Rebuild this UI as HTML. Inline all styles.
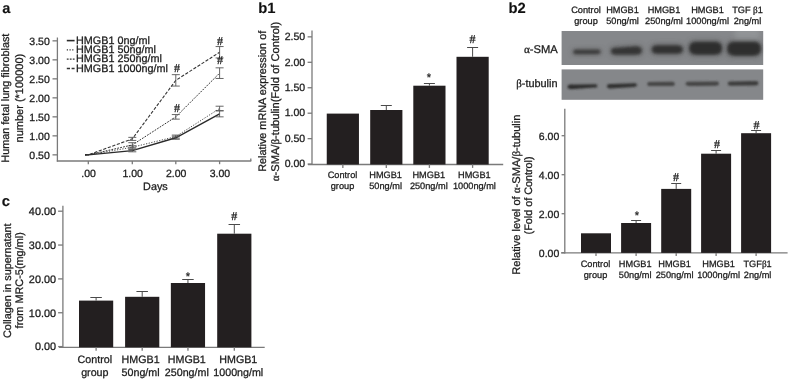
<!DOCTYPE html>
<html><head><meta charset="utf-8"><style>
html,body{margin:0;padding:0;background:#fff;}
body{width:789px;height:380px;overflow:hidden;}
svg{display:block;font-family:"Liberation Sans", sans-serif;filter:blur(0.4px);text-rendering:geometricPrecision;}
</style></head><body>
<svg width="789" height="380" viewBox="0 0 789 380">
<rect width="789" height="380" fill="#fff"/>
<text x="2.20" y="13.30" font-size="14.6" text-anchor="start" font-weight="bold" fill="#111" stroke="#111" stroke-width="0.1" >a</text>
<text x="258.20" y="12.80" font-size="14.8" text-anchor="start" font-weight="bold" fill="#111" stroke="#111" stroke-width="0.1" >b1</text>
<text x="508.50" y="12.90" font-size="14.8" text-anchor="start" font-weight="bold" fill="#111" stroke="#111" stroke-width="0.1" >b2</text>
<text x="1.70" y="205.60" font-size="14.8" text-anchor="start" font-weight="bold" fill="#111" stroke="#111" stroke-width="0.1" >c</text>
<line x1="57.40" y1="37.50" x2="57.40" y2="161.60" stroke="#7a7a7a" stroke-width="1.3" />
<line x1="56.80" y1="161.00" x2="251.30" y2="161.00" stroke="#7a7a7a" stroke-width="1.3" />
<line x1="250.80" y1="161.00" x2="250.80" y2="158.60" stroke="#7a7a7a" stroke-width="1.3" />
<line x1="52.50" y1="154.85" x2="57.40" y2="154.85" stroke="#7a7a7a" stroke-width="1.3" />
<text x="49.80" y="158.55" font-size="10.5" text-anchor="end" font-weight="normal" fill="#1c1c1c" stroke="#1c1c1c" stroke-width="0.28" >0.50</text>
<line x1="52.50" y1="135.85" x2="57.40" y2="135.85" stroke="#7a7a7a" stroke-width="1.3" />
<text x="49.80" y="139.55" font-size="10.5" text-anchor="end" font-weight="normal" fill="#1c1c1c" stroke="#1c1c1c" stroke-width="0.28" >1.00</text>
<line x1="52.50" y1="116.85" x2="57.40" y2="116.85" stroke="#7a7a7a" stroke-width="1.3" />
<text x="49.80" y="120.55" font-size="10.5" text-anchor="end" font-weight="normal" fill="#1c1c1c" stroke="#1c1c1c" stroke-width="0.28" >1.50</text>
<line x1="52.50" y1="97.85" x2="57.40" y2="97.85" stroke="#7a7a7a" stroke-width="1.3" />
<text x="49.80" y="101.55" font-size="10.5" text-anchor="end" font-weight="normal" fill="#1c1c1c" stroke="#1c1c1c" stroke-width="0.28" >2.00</text>
<line x1="52.50" y1="78.85" x2="57.40" y2="78.85" stroke="#7a7a7a" stroke-width="1.3" />
<text x="49.80" y="82.55" font-size="10.5" text-anchor="end" font-weight="normal" fill="#1c1c1c" stroke="#1c1c1c" stroke-width="0.28" >2.50</text>
<line x1="52.50" y1="59.85" x2="57.40" y2="59.85" stroke="#7a7a7a" stroke-width="1.3" />
<text x="49.80" y="63.55" font-size="10.5" text-anchor="end" font-weight="normal" fill="#1c1c1c" stroke="#1c1c1c" stroke-width="0.28" >3.00</text>
<line x1="52.50" y1="40.85" x2="57.40" y2="40.85" stroke="#7a7a7a" stroke-width="1.3" />
<text x="49.80" y="44.55" font-size="10.5" text-anchor="end" font-weight="normal" fill="#1c1c1c" stroke="#1c1c1c" stroke-width="0.28" >3.50</text>
<line x1="88.30" y1="161.00" x2="88.30" y2="164.20" stroke="#7a7a7a" stroke-width="1.3" />
<text x="88.60" y="176.80" font-size="10.5" text-anchor="middle" font-weight="normal" fill="#1c1c1c" stroke="#1c1c1c" stroke-width="0.28" >.00</text>
<line x1="132.30" y1="161.00" x2="132.30" y2="164.20" stroke="#7a7a7a" stroke-width="1.3" />
<text x="132.60" y="176.80" font-size="10.5" text-anchor="middle" font-weight="normal" fill="#1c1c1c" stroke="#1c1c1c" stroke-width="0.28" >1.00</text>
<line x1="175.80" y1="161.00" x2="175.80" y2="164.20" stroke="#7a7a7a" stroke-width="1.3" />
<text x="176.10" y="176.80" font-size="10.5" text-anchor="middle" font-weight="normal" fill="#1c1c1c" stroke="#1c1c1c" stroke-width="0.28" >2.00</text>
<line x1="219.60" y1="161.00" x2="219.60" y2="164.20" stroke="#7a7a7a" stroke-width="1.3" />
<text x="219.90" y="176.80" font-size="10.5" text-anchor="middle" font-weight="normal" fill="#1c1c1c" stroke="#1c1c1c" stroke-width="0.28" >3.00</text>
<text x="155.40" y="189.70" font-size="10.8" text-anchor="middle" font-weight="normal" fill="#1c1c1c" stroke="#1c1c1c" stroke-width="0.28" >Days</text>
<text transform="translate(9.10,98.15) rotate(-90)" font-size="10.85" text-anchor="middle" font-weight="normal" fill="#1c1c1c" stroke="#1c1c1c" stroke-width="0.28" >Human fetal lung fibroblast</text>
<text transform="translate(22.60,98.10) rotate(-90)" font-size="11.0" text-anchor="middle" font-weight="normal" fill="#1c1c1c" stroke="#1c1c1c" stroke-width="0.28" >number (*100000)</text>
<line x1="66.80" y1="40.60" x2="74.60" y2="40.60" stroke="#2a2a2a" stroke-width="1.5999999999999999" />
<text x="76.00" y="43.60" font-size="10.8" text-anchor="start" font-weight="normal" fill="#1c1c1c" stroke="#1c1c1c" stroke-width="0.28" >HMGB1 0ng/ml</text>
<line x1="66.80" y1="49.90" x2="74.60" y2="49.90" stroke="#333" stroke-width="1.1" stroke-dasharray="1.2 1.5"/>
<text x="76.00" y="52.90" font-size="10.8" text-anchor="start" font-weight="normal" fill="#1c1c1c" stroke="#1c1c1c" stroke-width="0.28" >HMGB1 50ng/ml</text>
<line x1="66.80" y1="59.20" x2="74.60" y2="59.20" stroke="#333" stroke-width="1.2" stroke-dasharray="1.8 1.2"/>
<text x="76.00" y="62.20" font-size="10.8" text-anchor="start" font-weight="normal" fill="#1c1c1c" stroke="#1c1c1c" stroke-width="0.28" >HMGB1 250ng/ml</text>
<line x1="66.80" y1="68.50" x2="74.60" y2="68.50" stroke="#333" stroke-width="1.3" stroke-dasharray="3.2 1.6"/>
<text x="76.00" y="71.50" font-size="10.8" text-anchor="start" font-weight="normal" fill="#1c1c1c" stroke="#1c1c1c" stroke-width="0.28" >HMGB1 1000ng/ml</text>
<polyline points="85.00,154.85 88.30,154.85 132.30,147.25 175.80,136.61 219.60,108.49" fill="none" stroke="#333" stroke-width="0.9" stroke-dasharray="1.2 1.5"/>
<line x1="132.30" y1="145.73" x2="132.30" y2="148.77" stroke="#555" stroke-width="0.9" />
<line x1="128.30" y1="145.73" x2="136.30" y2="145.73" stroke="#555" stroke-width="0.9" />
<line x1="128.30" y1="148.77" x2="136.30" y2="148.77" stroke="#555" stroke-width="0.9" />
<line x1="175.80" y1="135.09" x2="175.80" y2="138.13" stroke="#555" stroke-width="0.9" />
<line x1="171.80" y1="135.09" x2="179.80" y2="135.09" stroke="#555" stroke-width="0.9" />
<line x1="171.80" y1="138.13" x2="179.80" y2="138.13" stroke="#555" stroke-width="0.9" />
<line x1="219.60" y1="106.21" x2="219.60" y2="110.77" stroke="#555" stroke-width="0.9" />
<line x1="215.60" y1="106.21" x2="223.60" y2="106.21" stroke="#555" stroke-width="0.9" />
<line x1="215.60" y1="110.77" x2="223.60" y2="110.77" stroke="#555" stroke-width="0.9" />
<polyline points="85.00,154.85 88.30,154.85 132.30,144.97 175.80,116.85 219.60,73.15" fill="none" stroke="#333" stroke-width="1.0" stroke-dasharray="1.8 1.2"/>
<line x1="132.30" y1="142.69" x2="132.30" y2="147.25" stroke="#555" stroke-width="0.9" />
<line x1="128.30" y1="142.69" x2="136.30" y2="142.69" stroke="#555" stroke-width="0.9" />
<line x1="128.30" y1="147.25" x2="136.30" y2="147.25" stroke="#555" stroke-width="0.9" />
<line x1="175.80" y1="114.57" x2="175.80" y2="119.13" stroke="#555" stroke-width="0.9" />
<line x1="171.80" y1="114.57" x2="179.80" y2="114.57" stroke="#555" stroke-width="0.9" />
<line x1="171.80" y1="119.13" x2="179.80" y2="119.13" stroke="#555" stroke-width="0.9" />
<line x1="219.60" y1="67.83" x2="219.60" y2="78.47" stroke="#555" stroke-width="0.9" />
<line x1="215.60" y1="67.83" x2="223.60" y2="67.83" stroke="#555" stroke-width="0.9" />
<line x1="215.60" y1="78.47" x2="223.60" y2="78.47" stroke="#555" stroke-width="0.9" />
<polyline points="85.00,154.85 88.30,154.85 132.30,138.89 175.80,80.37 219.60,52.25" fill="none" stroke="#333" stroke-width="1.1" stroke-dasharray="3.2 1.6"/>
<line x1="132.30" y1="137.37" x2="132.30" y2="140.41" stroke="#555" stroke-width="0.9" />
<line x1="128.30" y1="137.37" x2="136.30" y2="137.37" stroke="#555" stroke-width="0.9" />
<line x1="128.30" y1="140.41" x2="136.30" y2="140.41" stroke="#555" stroke-width="0.9" />
<line x1="175.80" y1="74.67" x2="175.80" y2="86.07" stroke="#555" stroke-width="0.9" />
<line x1="171.80" y1="74.67" x2="179.80" y2="74.67" stroke="#555" stroke-width="0.9" />
<line x1="171.80" y1="86.07" x2="179.80" y2="86.07" stroke="#555" stroke-width="0.9" />
<line x1="219.60" y1="46.55" x2="219.60" y2="57.95" stroke="#555" stroke-width="0.9" />
<line x1="215.60" y1="46.55" x2="223.60" y2="46.55" stroke="#555" stroke-width="0.9" />
<line x1="215.60" y1="57.95" x2="223.60" y2="57.95" stroke="#555" stroke-width="0.9" />
<polyline points="85.00,154.85 88.30,154.85 132.30,150.67 175.80,137.75 219.60,113.81" fill="none" stroke="#2a2a2a" stroke-width="1.4" />
<line x1="132.30" y1="149.53" x2="132.30" y2="151.81" stroke="#555" stroke-width="0.9" />
<line x1="128.30" y1="149.53" x2="136.30" y2="149.53" stroke="#555" stroke-width="0.9" />
<line x1="128.30" y1="151.81" x2="136.30" y2="151.81" stroke="#555" stroke-width="0.9" />
<line x1="175.80" y1="136.23" x2="175.80" y2="139.27" stroke="#555" stroke-width="0.9" />
<line x1="171.80" y1="136.23" x2="179.80" y2="136.23" stroke="#555" stroke-width="0.9" />
<line x1="171.80" y1="139.27" x2="179.80" y2="139.27" stroke="#555" stroke-width="0.9" />
<line x1="219.60" y1="110.77" x2="219.60" y2="116.85" stroke="#555" stroke-width="0.9" />
<line x1="215.60" y1="110.77" x2="223.60" y2="110.77" stroke="#555" stroke-width="0.9" />
<line x1="215.60" y1="116.85" x2="223.60" y2="116.85" stroke="#555" stroke-width="0.9" />
<text x="176.90" y="72.30" font-size="12" text-anchor="middle" font-weight="normal" fill="#1a1a1a" stroke="#1a1a1a" stroke-width="0.28" font-family='"Liberation Serif", serif'>#</text>
<text x="176.90" y="111.60" font-size="12" text-anchor="middle" font-weight="normal" fill="#1a1a1a" stroke="#1a1a1a" stroke-width="0.28" font-family='"Liberation Serif", serif'>#</text>
<text x="219.90" y="45.20" font-size="12" text-anchor="middle" font-weight="normal" fill="#1a1a1a" stroke="#1a1a1a" stroke-width="0.28" font-family='"Liberation Serif", serif'>#</text>
<text x="219.90" y="63.80" font-size="12" text-anchor="middle" font-weight="normal" fill="#1a1a1a" stroke="#1a1a1a" stroke-width="0.28" font-family='"Liberation Serif", serif'>#</text>
<line x1="312.00" y1="30.50" x2="312.00" y2="165.10" stroke="#7a7a7a" stroke-width="1.3" />
<line x1="308.00" y1="164.50" x2="503.20" y2="164.50" stroke="#7a7a7a" stroke-width="1.3" />
<line x1="307.60" y1="164.10" x2="312.00" y2="164.10" stroke="#7a7a7a" stroke-width="1.3" />
<text x="305.20" y="167.30" font-size="10.5" text-anchor="end" font-weight="normal" fill="#1c1c1c" stroke="#1c1c1c" stroke-width="0.28" >0.00</text>
<line x1="307.60" y1="138.65" x2="312.00" y2="138.65" stroke="#7a7a7a" stroke-width="1.3" />
<text x="305.20" y="141.85" font-size="10.5" text-anchor="end" font-weight="normal" fill="#1c1c1c" stroke="#1c1c1c" stroke-width="0.28" >0.50</text>
<line x1="307.60" y1="113.20" x2="312.00" y2="113.20" stroke="#7a7a7a" stroke-width="1.3" />
<text x="305.20" y="116.40" font-size="10.5" text-anchor="end" font-weight="normal" fill="#1c1c1c" stroke="#1c1c1c" stroke-width="0.28" >1.00</text>
<line x1="307.60" y1="87.75" x2="312.00" y2="87.75" stroke="#7a7a7a" stroke-width="1.3" />
<text x="305.20" y="90.95" font-size="10.5" text-anchor="end" font-weight="normal" fill="#1c1c1c" stroke="#1c1c1c" stroke-width="0.28" >1.50</text>
<line x1="307.60" y1="62.30" x2="312.00" y2="62.30" stroke="#7a7a7a" stroke-width="1.3" />
<text x="305.20" y="65.50" font-size="10.5" text-anchor="end" font-weight="normal" fill="#1c1c1c" stroke="#1c1c1c" stroke-width="0.28" >2.00</text>
<line x1="307.60" y1="36.85" x2="312.00" y2="36.85" stroke="#7a7a7a" stroke-width="1.3" />
<text x="305.20" y="40.05" font-size="10.5" text-anchor="end" font-weight="normal" fill="#1c1c1c" stroke="#1c1c1c" stroke-width="0.28" >2.50</text>
<rect x="326.75" y="113.60" width="32.20" height="50.90" fill="#231f20" />
<line x1="342.85" y1="164.50" x2="342.85" y2="167.90" stroke="#7a7a7a" stroke-width="1.3" />
<rect x="370.20" y="110.00" width="32.20" height="54.50" fill="#231f20" />
<line x1="386.30" y1="164.50" x2="386.30" y2="167.90" stroke="#7a7a7a" stroke-width="1.3" />
<line x1="386.30" y1="110.00" x2="386.30" y2="105.50" stroke="#4a4a4a" stroke-width="1.0" />
<line x1="380.80" y1="105.50" x2="391.80" y2="105.50" stroke="#4a4a4a" stroke-width="1.0" />
<rect x="413.30" y="85.70" width="32.20" height="78.80" fill="#231f20" />
<line x1="429.40" y1="164.50" x2="429.40" y2="167.90" stroke="#7a7a7a" stroke-width="1.3" />
<line x1="429.40" y1="85.70" x2="429.40" y2="83.50" stroke="#4a4a4a" stroke-width="1.0" />
<line x1="423.90" y1="83.50" x2="434.90" y2="83.50" stroke="#4a4a4a" stroke-width="1.0" />
<rect x="456.50" y="56.80" width="32.20" height="107.70" fill="#231f20" />
<line x1="472.60" y1="164.50" x2="472.60" y2="167.90" stroke="#7a7a7a" stroke-width="1.3" />
<line x1="472.60" y1="56.80" x2="472.60" y2="47.50" stroke="#4a4a4a" stroke-width="1.0" />
<line x1="467.10" y1="47.50" x2="478.10" y2="47.50" stroke="#4a4a4a" stroke-width="1.0" />
<text x="429.00" y="81.40" font-size="11" text-anchor="middle" font-weight="normal" fill="#222" stroke="#222" stroke-width="0.28" >*</text>
<text x="472.40" y="42.60" font-size="12" text-anchor="middle" font-weight="normal" fill="#1a1a1a" stroke="#1a1a1a" stroke-width="0.28" font-family='"Liberation Serif", serif'>#</text>
<text x="342.50" y="177.90" font-size="9.2" text-anchor="middle" font-weight="normal" fill="#1c1c1c" stroke="#1c1c1c" stroke-width="0.28" >Control</text>
<text x="342.50" y="188.80" font-size="9.2" text-anchor="middle" font-weight="normal" fill="#1c1c1c" stroke="#1c1c1c" stroke-width="0.28" >group</text>
<text x="385.60" y="177.90" font-size="9.2" text-anchor="middle" font-weight="normal" fill="#1c1c1c" stroke="#1c1c1c" stroke-width="0.28" >HMGB1</text>
<text x="385.60" y="188.80" font-size="9.2" text-anchor="middle" font-weight="normal" fill="#1c1c1c" stroke="#1c1c1c" stroke-width="0.28" >50ng/ml</text>
<text x="428.80" y="177.90" font-size="9.2" text-anchor="middle" font-weight="normal" fill="#1c1c1c" stroke="#1c1c1c" stroke-width="0.28" >HMGB1</text>
<text x="428.80" y="188.80" font-size="9.2" text-anchor="middle" font-weight="normal" fill="#1c1c1c" stroke="#1c1c1c" stroke-width="0.28" >250ng/ml</text>
<text x="474.40" y="177.90" font-size="9.2" text-anchor="middle" font-weight="normal" fill="#1c1c1c" stroke="#1c1c1c" stroke-width="0.28" >HMGB1</text>
<text x="474.40" y="188.80" font-size="9.2" text-anchor="middle" font-weight="normal" fill="#1c1c1c" stroke="#1c1c1c" stroke-width="0.28" >1000ng/ml</text>
<text transform="translate(266.30,101.30) rotate(-90)" font-size="10.85" text-anchor="middle" font-weight="normal" fill="#1c1c1c" stroke="#1c1c1c" stroke-width="0.28" >Relative mRNA expression of</text>
<text transform="translate(279.20,101.60) rotate(-90)" font-size="11.15" text-anchor="middle" font-weight="normal" fill="#1c1c1c" stroke="#1c1c1c" stroke-width="0.28" ><tspan font-family='"Liberation Serif", serif'>α</tspan>-SMA/<tspan font-family='"Liberation Serif", serif'>β</tspan>-tubulin(Fold of Control)</text>
<text x="586.00" y="13.40" font-size="9.2" text-anchor="middle" font-weight="normal" fill="#1c1c1c" stroke="#1c1c1c" stroke-width="0.28" >Control</text>
<text x="586.00" y="24.40" font-size="9.2" text-anchor="middle" font-weight="normal" fill="#1c1c1c" stroke="#1c1c1c" stroke-width="0.28" >group</text>
<text x="622.50" y="13.40" font-size="9.2" text-anchor="middle" font-weight="normal" fill="#1c1c1c" stroke="#1c1c1c" stroke-width="0.28" >HMGB1</text>
<text x="622.50" y="24.40" font-size="9.2" text-anchor="middle" font-weight="normal" fill="#1c1c1c" stroke="#1c1c1c" stroke-width="0.28" >50ng/ml</text>
<text x="664.00" y="13.40" font-size="9.2" text-anchor="middle" font-weight="normal" fill="#1c1c1c" stroke="#1c1c1c" stroke-width="0.28" >HMGB1</text>
<text x="664.00" y="24.40" font-size="9.2" text-anchor="middle" font-weight="normal" fill="#1c1c1c" stroke="#1c1c1c" stroke-width="0.28" >250ng/ml</text>
<text x="707.50" y="13.40" font-size="9.2" text-anchor="middle" font-weight="normal" fill="#1c1c1c" stroke="#1c1c1c" stroke-width="0.28" >HMGB1</text>
<text x="707.50" y="24.40" font-size="9.2" text-anchor="middle" font-weight="normal" fill="#1c1c1c" stroke="#1c1c1c" stroke-width="0.28" >1000ng/ml</text>
<text x="747.50" y="13.40" font-size="9.2" text-anchor="middle" font-weight="normal" fill="#1c1c1c" stroke="#1c1c1c" stroke-width="0.28" >TGF <tspan font-family='"Liberation Serif", serif'>β</tspan>1</text>
<text x="747.50" y="24.40" font-size="9.2" text-anchor="middle" font-weight="normal" fill="#1c1c1c" stroke="#1c1c1c" stroke-width="0.28" >2ng/ml</text>
<text x="557.80" y="53.20" font-size="11.2" text-anchor="end" font-weight="normal" fill="#1c1c1c" stroke="#1c1c1c" stroke-width="0.28" ><tspan font-family='"Liberation Serif", serif'>α</tspan>-SMA</text>
<text x="557.50" y="86.60" font-size="10.9" text-anchor="end" font-weight="normal" fill="#1c1c1c" stroke="#1c1c1c" stroke-width="0.28" ><tspan font-family='"Liberation Serif", serif'>β</tspan>-tubulin</text>
<defs><filter id="bl" x="-20%" y="-100%" width="140%" height="300%"><feGaussianBlur stdDeviation="1.75"/></filter><filter id="bl2" x="-20%" y="-100%" width="140%" height="300%"><feGaussianBlur stdDeviation="1.15"/></filter><filter id="bl3" x="-50%" y="-50%" width="200%" height="200%"><feGaussianBlur stdDeviation="2.5"/></filter><clipPath id="cb1"><rect x="561.6" y="31" width="201.6" height="34"/></clipPath></defs>
<rect x="561.60" y="31.00" width="201.60" height="34.00" fill="#85878a" />
<rect x="561.60" y="69.40" width="201.60" height="30.40" fill="#85878a" />
<g clip-path="url(#cb1)"><rect x="735" y="28" width="24" height="13" fill="#929497" filter="url(#bl3)"/></g>
<g opacity="0.5" clip-path="url(#cb1)">
<path d="M572.00,51.90 C572.00,48.40 575.85,48.40 577.77,48.40 L596.23,48.30 C598.15,48.30 602.00,48.30 602.00,51.80 C602.00,55.30 598.15,55.30 596.23,55.30 L577.77,55.40 C575.85,55.40 572.00,55.40 572.00,51.90 Z" fill="#555" filter="url(#bl3)"/>
<path d="M609.50,51.00 C609.50,46.00 615.00,46.00 617.75,46.00 L635.25,45.00 C638.00,45.00 643.50,45.00 643.50,50.50 C643.50,56.00 638.00,56.00 635.25,56.00 L617.75,56.00 C615.00,56.00 609.50,56.00 609.50,51.00 Z" fill="#505050" filter="url(#bl3)"/>
<path d="M650.00,49.60 C650.00,43.85 655.50,43.85 658.25,43.85 L676.25,43.85 C679.00,43.85 684.50,43.85 684.50,49.60 C684.50,55.35 679.00,55.35 676.25,55.35 L658.25,55.35 C655.50,55.35 650.00,55.35 650.00,49.60 Z" fill="#4a4a4a" filter="url(#bl3)"/>
<path d="M687.50,48.30 C687.50,40.30 693.00,40.30 695.75,40.30 L715.25,40.30 C718.00,40.30 723.50,40.30 723.50,48.30 C723.50,56.30 718.00,56.30 715.25,56.30 L695.75,56.30 C693.00,56.30 687.50,56.30 687.50,48.30 Z" fill="#454545" filter="url(#bl3)"/>
<path d="M725.50,48.70 C725.50,40.20 731.00,40.20 733.75,40.20 L753.75,40.20 C756.50,40.20 762.00,40.20 762.00,48.70 C762.00,57.20 756.50,57.20 753.75,57.20 L733.75,57.20 C731.00,57.20 725.50,57.20 725.50,48.70 Z" fill="#454545" filter="url(#bl3)"/>
</g>
<path d="M573.40,51.90 C573.40,49.70 575.82,49.70 577.03,49.70 L596.93,49.70 C598.09,49.70 600.40,49.70 600.40,51.80 C600.40,53.90 598.09,53.90 596.93,53.90 L577.03,54.10 C575.82,54.10 573.40,54.10 573.40,51.90 Z" fill="#3a3a3a" filter="url(#bl)"/>
<path d="M611.20,51.30 C611.20,48.10 614.72,48.10 616.48,48.10 L635.17,46.60 C637.31,46.60 641.60,46.60 641.60,50.50 C641.60,54.40 637.31,54.40 635.17,54.40 L616.48,54.50 C614.72,54.50 611.20,54.50 611.20,51.30 Z" fill="#353535" filter="url(#bl)"/>
<path d="M652.00,49.60 C652.00,45.60 656.40,45.60 658.60,45.60 L676.00,45.60 C678.20,45.60 682.60,45.60 682.60,49.60 C682.60,53.60 678.20,53.60 676.00,53.60 L658.60,53.60 C656.40,53.60 652.00,53.60 652.00,49.60 Z" fill="#313131" filter="url(#bl)"/>
<path d="M689.40,48.30 C689.40,42.10 694.90,42.10 697.65,42.10 L713.55,42.10 C716.30,42.10 721.80,42.10 721.80,48.30 C721.80,54.50 716.30,54.50 713.55,54.50 L697.65,54.50 C694.90,54.50 689.40,54.50 689.40,48.30 Z" fill="#2e2e2e" filter="url(#bl)"/>
<path d="M727.40,48.70 C727.40,42.00 732.90,42.00 735.65,42.00 L752.55,42.00 C755.30,42.00 760.80,42.00 760.80,48.70 C760.80,55.40 755.30,55.40 752.55,55.40 L735.65,55.40 C732.90,55.40 727.40,55.40 727.40,48.70 Z" fill="#2e2e2e" filter="url(#bl)"/>
<path d="M567.60,86.80 C567.60,84.40 570.24,84.40 571.56,84.40 L594.60,84.20 C595.53,84.20 597.40,84.20 597.40,85.90 C597.40,87.60 595.53,87.60 594.60,87.60 L571.56,89.20 C570.24,89.20 567.60,89.20 567.60,86.80 Z" fill="#2e2e2e" filter="url(#bl2)"/>
<path d="M607.00,86.30 C607.00,84.00 609.53,84.00 610.79,84.00 L634.03,83.30 C635.02,83.30 637.00,83.30 637.00,85.10 C637.00,86.90 635.02,86.90 634.03,86.90 L610.79,88.60 C609.53,88.60 607.00,88.60 607.00,86.30 Z" fill="#303030" filter="url(#bl2)"/>
<path d="M647.20,84.00 C647.20,81.90 649.51,81.90 650.67,81.90 L671.33,81.80 C672.49,81.80 674.80,81.80 674.80,83.90 C674.80,86.00 672.49,86.00 671.33,86.00 L650.67,86.10 C649.51,86.10 647.20,86.10 647.20,84.00 Z" fill="#444444" filter="url(#bl2)"/>
<path d="M685.60,83.80 C685.60,81.70 687.91,81.70 689.07,81.70 L715.53,81.50 C716.69,81.50 719.00,81.50 719.00,83.60 C719.00,85.70 716.69,85.70 715.53,85.70 L689.07,85.90 C687.91,85.90 685.60,85.90 685.60,83.80 Z" fill="#444444" filter="url(#bl2)"/>
<path d="M727.80,83.60 C727.80,81.40 730.22,81.40 731.43,81.40 L754.77,81.10 C755.98,81.10 758.40,81.10 758.40,83.30 C758.40,85.50 755.98,85.50 754.77,85.50 L731.43,85.80 C730.22,85.80 727.80,85.80 727.80,83.60 Z" fill="#3c3c3c" filter="url(#bl2)"/>
<line x1="564.80" y1="108.80" x2="564.80" y2="253.50" stroke="#7a7a7a" stroke-width="1.3" />
<line x1="561.00" y1="252.90" x2="787.60" y2="252.90" stroke="#7a7a7a" stroke-width="1.3" />
<line x1="561.60" y1="252.70" x2="564.80" y2="252.70" stroke="#7a7a7a" stroke-width="1.3" />
<text x="559.30" y="257.10" font-size="10.5" text-anchor="end" font-weight="normal" fill="#1c1c1c" stroke="#1c1c1c" stroke-width="0.28" >0.00</text>
<line x1="561.60" y1="213.70" x2="564.80" y2="213.70" stroke="#7a7a7a" stroke-width="1.3" />
<text x="559.30" y="218.10" font-size="10.5" text-anchor="end" font-weight="normal" fill="#1c1c1c" stroke="#1c1c1c" stroke-width="0.28" >2.00</text>
<line x1="561.60" y1="174.70" x2="564.80" y2="174.70" stroke="#7a7a7a" stroke-width="1.3" />
<text x="559.30" y="179.10" font-size="10.5" text-anchor="end" font-weight="normal" fill="#1c1c1c" stroke="#1c1c1c" stroke-width="0.28" >4.00</text>
<line x1="561.60" y1="135.70" x2="564.80" y2="135.70" stroke="#7a7a7a" stroke-width="1.3" />
<text x="559.30" y="140.10" font-size="10.5" text-anchor="end" font-weight="normal" fill="#1c1c1c" stroke="#1c1c1c" stroke-width="0.28" >6.00</text>
<rect x="581.00" y="233.30" width="30.00" height="19.60" fill="#231f20" />
<line x1="596.00" y1="252.90" x2="596.00" y2="255.90" stroke="#7a7a7a" stroke-width="1.3" />
<rect x="621.10" y="223.00" width="30.00" height="29.90" fill="#231f20" />
<line x1="636.10" y1="252.90" x2="636.10" y2="255.90" stroke="#7a7a7a" stroke-width="1.3" />
<line x1="636.10" y1="223.00" x2="636.10" y2="220.50" stroke="#4a4a4a" stroke-width="1.0" />
<line x1="631.10" y1="220.50" x2="641.10" y2="220.50" stroke="#4a4a4a" stroke-width="1.0" />
<rect x="661.20" y="188.90" width="30.00" height="64.00" fill="#231f20" />
<line x1="676.20" y1="252.90" x2="676.20" y2="255.90" stroke="#7a7a7a" stroke-width="1.3" />
<line x1="676.20" y1="188.90" x2="676.20" y2="183.50" stroke="#4a4a4a" stroke-width="1.0" />
<line x1="671.20" y1="183.50" x2="681.20" y2="183.50" stroke="#4a4a4a" stroke-width="1.0" />
<rect x="701.10" y="153.70" width="30.00" height="99.20" fill="#231f20" />
<line x1="716.10" y1="252.90" x2="716.10" y2="255.90" stroke="#7a7a7a" stroke-width="1.3" />
<line x1="716.10" y1="153.70" x2="716.10" y2="150.50" stroke="#4a4a4a" stroke-width="1.0" />
<line x1="711.10" y1="150.50" x2="721.10" y2="150.50" stroke="#4a4a4a" stroke-width="1.0" />
<rect x="741.10" y="133.20" width="30.00" height="119.70" fill="#231f20" />
<line x1="756.10" y1="252.90" x2="756.10" y2="255.90" stroke="#7a7a7a" stroke-width="1.3" />
<line x1="756.10" y1="133.20" x2="756.10" y2="130.50" stroke="#4a4a4a" stroke-width="1.0" />
<line x1="751.10" y1="130.50" x2="761.10" y2="130.50" stroke="#4a4a4a" stroke-width="1.0" />
<text x="637.00" y="218.60" font-size="11" text-anchor="middle" font-weight="normal" fill="#222" stroke="#222" stroke-width="0.28" >*</text>
<text x="676.00" y="180.60" font-size="12" text-anchor="middle" font-weight="normal" fill="#1a1a1a" stroke="#1a1a1a" stroke-width="0.28" font-family='"Liberation Serif", serif'>#</text>
<text x="716.90" y="148.20" font-size="12" text-anchor="middle" font-weight="normal" fill="#1a1a1a" stroke="#1a1a1a" stroke-width="0.28" font-family='"Liberation Serif", serif'>#</text>
<text x="756.50" y="129.00" font-size="12" text-anchor="middle" font-weight="normal" fill="#1a1a1a" stroke="#1a1a1a" stroke-width="0.28" font-family='"Liberation Serif", serif'>#</text>
<text x="595.50" y="267.20" font-size="9.2" text-anchor="middle" font-weight="normal" fill="#1c1c1c" stroke="#1c1c1c" stroke-width="0.28" >Control</text>
<text x="595.50" y="278.10" font-size="9.2" text-anchor="middle" font-weight="normal" fill="#1c1c1c" stroke="#1c1c1c" stroke-width="0.28" >group</text>
<text x="635.20" y="267.20" font-size="9.2" text-anchor="middle" font-weight="normal" fill="#1c1c1c" stroke="#1c1c1c" stroke-width="0.28" >HMGB1</text>
<text x="635.20" y="278.10" font-size="9.2" text-anchor="middle" font-weight="normal" fill="#1c1c1c" stroke="#1c1c1c" stroke-width="0.28" >50ng/ml</text>
<text x="674.60" y="267.20" font-size="9.2" text-anchor="middle" font-weight="normal" fill="#1c1c1c" stroke="#1c1c1c" stroke-width="0.28" >HMGB1</text>
<text x="674.60" y="278.10" font-size="9.2" text-anchor="middle" font-weight="normal" fill="#1c1c1c" stroke="#1c1c1c" stroke-width="0.28" >250ng/ml</text>
<text x="718.60" y="267.20" font-size="9.2" text-anchor="middle" font-weight="normal" fill="#1c1c1c" stroke="#1c1c1c" stroke-width="0.28" >HMGB1</text>
<text x="718.60" y="278.10" font-size="9.2" text-anchor="middle" font-weight="normal" fill="#1c1c1c" stroke="#1c1c1c" stroke-width="0.28" >1000ng/ml</text>
<text x="757.60" y="267.20" font-size="9.2" text-anchor="middle" font-weight="normal" fill="#1c1c1c" stroke="#1c1c1c" stroke-width="0.28" >TGF<tspan font-family='"Liberation Serif", serif'>β</tspan>1</text>
<text x="757.60" y="278.10" font-size="9.2" text-anchor="middle" font-weight="normal" fill="#1c1c1c" stroke="#1c1c1c" stroke-width="0.28" >2ng/ml</text>
<text transform="translate(519.50,194.60) rotate(-90)" font-size="11.1" text-anchor="middle" font-weight="normal" fill="#1c1c1c" stroke="#1c1c1c" stroke-width="0.28" >Relative level of <tspan font-family='"Liberation Serif", serif'>α</tspan>-SMA/<tspan font-family='"Liberation Serif", serif'>β</tspan>-tubulin</text>
<text transform="translate(532.30,195.40) rotate(-90)" font-size="10.8" text-anchor="middle" font-weight="normal" fill="#1c1c1c" stroke="#1c1c1c" stroke-width="0.28" >(Fold of Control)</text>
<line x1="62.90" y1="205.70" x2="62.90" y2="347.90" stroke="#7a7a7a" stroke-width="1.3" />
<line x1="59.00" y1="347.30" x2="264.70" y2="347.30" stroke="#7a7a7a" stroke-width="1.3" />
<line x1="58.10" y1="346.60" x2="62.90" y2="346.60" stroke="#7a7a7a" stroke-width="1.3" />
<text x="56.00" y="350.40" font-size="10.85" text-anchor="end" font-weight="normal" fill="#1c1c1c" stroke="#1c1c1c" stroke-width="0.28" >0.00</text>
<line x1="58.10" y1="312.75" x2="62.90" y2="312.75" stroke="#7a7a7a" stroke-width="1.3" />
<text x="56.00" y="316.55" font-size="10.85" text-anchor="end" font-weight="normal" fill="#1c1c1c" stroke="#1c1c1c" stroke-width="0.28" >10.00</text>
<line x1="58.10" y1="278.90" x2="62.90" y2="278.90" stroke="#7a7a7a" stroke-width="1.3" />
<text x="56.00" y="282.70" font-size="10.85" text-anchor="end" font-weight="normal" fill="#1c1c1c" stroke="#1c1c1c" stroke-width="0.28" >20.00</text>
<line x1="58.10" y1="245.05" x2="62.90" y2="245.05" stroke="#7a7a7a" stroke-width="1.3" />
<text x="56.00" y="248.85" font-size="10.85" text-anchor="end" font-weight="normal" fill="#1c1c1c" stroke="#1c1c1c" stroke-width="0.28" >30.00</text>
<line x1="58.10" y1="211.20" x2="62.90" y2="211.20" stroke="#7a7a7a" stroke-width="1.3" />
<text x="56.00" y="215.00" font-size="10.85" text-anchor="end" font-weight="normal" fill="#1c1c1c" stroke="#1c1c1c" stroke-width="0.28" >40.00</text>
<rect x="79.00" y="300.60" width="34.20" height="46.70" fill="#231f20" />
<line x1="96.10" y1="347.30" x2="96.10" y2="350.70" stroke="#7a7a7a" stroke-width="1.3" />
<line x1="96.10" y1="300.60" x2="96.10" y2="297.50" stroke="#4a4a4a" stroke-width="1.0" />
<line x1="90.35" y1="297.50" x2="101.85" y2="297.50" stroke="#4a4a4a" stroke-width="1.0" />
<rect x="125.10" y="296.80" width="34.20" height="50.50" fill="#231f20" />
<line x1="142.20" y1="347.30" x2="142.20" y2="350.70" stroke="#7a7a7a" stroke-width="1.3" />
<line x1="142.20" y1="296.80" x2="142.20" y2="291.50" stroke="#4a4a4a" stroke-width="1.0" />
<line x1="136.45" y1="291.50" x2="147.95" y2="291.50" stroke="#4a4a4a" stroke-width="1.0" />
<rect x="170.85" y="283.00" width="34.20" height="64.30" fill="#231f20" />
<line x1="187.95" y1="347.30" x2="187.95" y2="350.70" stroke="#7a7a7a" stroke-width="1.3" />
<line x1="187.95" y1="283.00" x2="187.95" y2="279.50" stroke="#4a4a4a" stroke-width="1.0" />
<line x1="182.20" y1="279.50" x2="193.70" y2="279.50" stroke="#4a4a4a" stroke-width="1.0" />
<rect x="217.20" y="233.70" width="34.20" height="113.60" fill="#231f20" />
<line x1="234.30" y1="347.30" x2="234.30" y2="350.70" stroke="#7a7a7a" stroke-width="1.3" />
<line x1="234.30" y1="233.70" x2="234.30" y2="224.50" stroke="#4a4a4a" stroke-width="1.0" />
<line x1="228.55" y1="224.50" x2="240.05" y2="224.50" stroke="#4a4a4a" stroke-width="1.0" />
<text x="187.90" y="280.00" font-size="11" text-anchor="middle" font-weight="normal" fill="#222" stroke="#222" stroke-width="0.28" >*</text>
<text x="234.30" y="220.20" font-size="12" text-anchor="middle" font-weight="normal" fill="#1a1a1a" stroke="#1a1a1a" stroke-width="0.28" font-family='"Liberation Serif", serif'>#</text>
<text x="94.80" y="363.00" font-size="10.7" text-anchor="middle" font-weight="normal" fill="#1c1c1c" stroke="#1c1c1c" stroke-width="0.28" >Control</text>
<text x="94.80" y="376.00" font-size="10.7" text-anchor="middle" font-weight="normal" fill="#1c1c1c" stroke="#1c1c1c" stroke-width="0.28" >group</text>
<text x="140.60" y="363.00" font-size="10.7" text-anchor="middle" font-weight="normal" fill="#1c1c1c" stroke="#1c1c1c" stroke-width="0.28" >HMGB1</text>
<text x="140.60" y="376.00" font-size="10.7" text-anchor="middle" font-weight="normal" fill="#1c1c1c" stroke="#1c1c1c" stroke-width="0.28" >50ng/ml</text>
<text x="186.80" y="363.00" font-size="10.7" text-anchor="middle" font-weight="normal" fill="#1c1c1c" stroke="#1c1c1c" stroke-width="0.28" >HMGB1</text>
<text x="186.80" y="376.00" font-size="10.7" text-anchor="middle" font-weight="normal" fill="#1c1c1c" stroke="#1c1c1c" stroke-width="0.28" >250ng/ml</text>
<text x="238.30" y="363.00" font-size="10.7" text-anchor="middle" font-weight="normal" fill="#1c1c1c" stroke="#1c1c1c" stroke-width="0.28" >HMGB1</text>
<text x="238.30" y="376.00" font-size="10.7" text-anchor="middle" font-weight="normal" fill="#1c1c1c" stroke="#1c1c1c" stroke-width="0.28" >1000ng/ml</text>
<text transform="translate(10.70,280.70) rotate(-90)" font-size="10.85" text-anchor="middle" font-weight="normal" fill="#1c1c1c" stroke="#1c1c1c" stroke-width="0.28" >Collagen in supernatant</text>
<text transform="translate(22.80,280.30) rotate(-90)" font-size="10.9" text-anchor="middle" font-weight="normal" fill="#1c1c1c" stroke="#1c1c1c" stroke-width="0.28" >from MRC-5(mg/ml)</text>
</svg>
</body></html>
